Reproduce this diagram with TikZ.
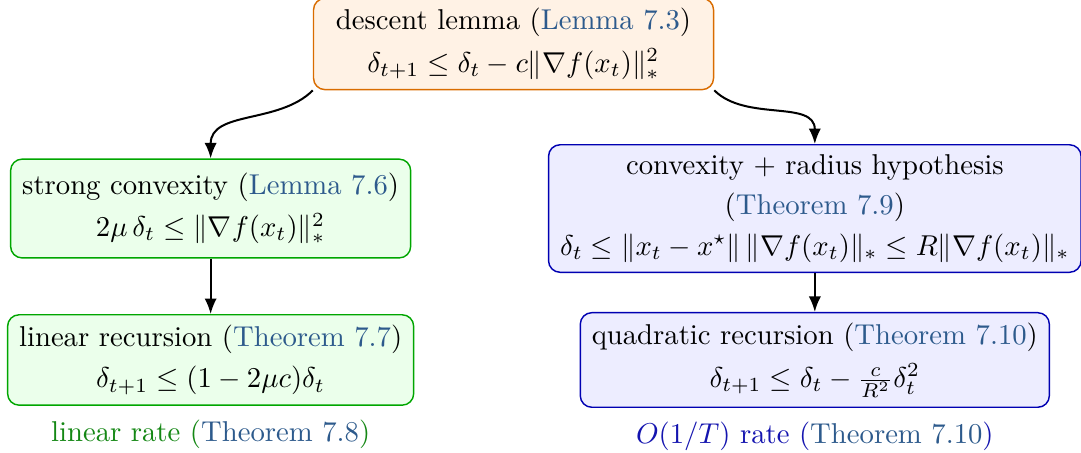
\documentclass[tikz,border=0pt]{standalone}
\usepackage{amsmath}
\usepackage{amssymb}
\usepackage{xcolor}
\usepackage{tikz}
\usetikzlibrary{arrows.meta,positioning}
\definecolor{chref}{RGB}{45,90,140}
\definecolor{chgreen}{RGB}{20,135,20}
\definecolor{chblue}{RGB}{20,20,175}
\tikzset{
  chbox/.style={
    rounded corners=4pt, line width=0.5pt, align=center,
    inner xsep=4pt, inner ysep=3.5pt, minimum width=4.9cm
  },
  desc/.style={chbox, draw=orange!85!black, fill=orange!10},
  sc/.style={chbox, draw=green!65!black, fill=green!8},
  cvx/.style={chbox, draw=blue!70!black, fill=blue!7},
  arr/.style={-{Latex[length=1.9mm,width=1.5mm]}, line width=0.7pt},
  rate/.style={inner sep=2pt, align=center}
}
\newcommand{\thmref}[1]{\textcolor{chref}{#1}}

\begin{document}
\begin{tikzpicture}[node distance=1mm]
  \useasboundingbox (-6.29,0.539) rectangle (6.95,-5.0);
  \node[desc] (lem) at (0,0) {descent lemma (\thmref{Lemma 7.3})\\[2.8pt]
    $\delta_{t+1} \le \delta_t - c\|\nabla f(x_t)\|_*^2$};
  \node[sc, minimum height=1.21cm] (strong) at (-3.71,-2.015) {strong convexity (\thmref{Lemma 7.6})\\[2.5pt]
    $2\mu\,\delta_t \le \|\nabla f(x_t)\|_*^2$};
  \node[cvx] (radius) at (3.69,-2.015) {convexity $+$ radius hypothesis\\[2pt]
    (\thmref{Theorem 7.9})\\[2pt]
    $\delta_t \le \|x_t - x^\star\|\,\|\nabla f(x_t)\|_* \le R\|\nabla f(x_t)\|_*$};
  \node[sc] (linrec) at (-3.71,-3.87) {linear recursion (\thmref{Theorem 7.7})\\[2.5pt]
    $\delta_{t+1} \le (1-2\mu c)\delta_t$};
  \node[cvx] (quadrec) at (3.69,-3.87) {quadratic recursion (\thmref{Theorem 7.10})\\[3pt]
    $\delta_{t+1} \le \delta_t - \frac{c}{R^2}\delta_t^2$};
  \node[rate, text=chgreen, below=of linrec] (linrate) {linear rate (\thmref{Theorem 7.8})};
  \node[rate, text=chblue, below=of quadrec] (sublin) {$O(1/T)$ rate (\thmref{Theorem 7.10})};

  \draw[arr] (lem.south west) to[out=-135,in=90] (strong.north);
  \draw[arr] (lem.south east) to[out=-45,in=90] (radius.north);
  \draw[arr] (strong) -- (linrec);
  \draw[arr] (radius) -- (quadrec);
\end{tikzpicture}
\end{document}
